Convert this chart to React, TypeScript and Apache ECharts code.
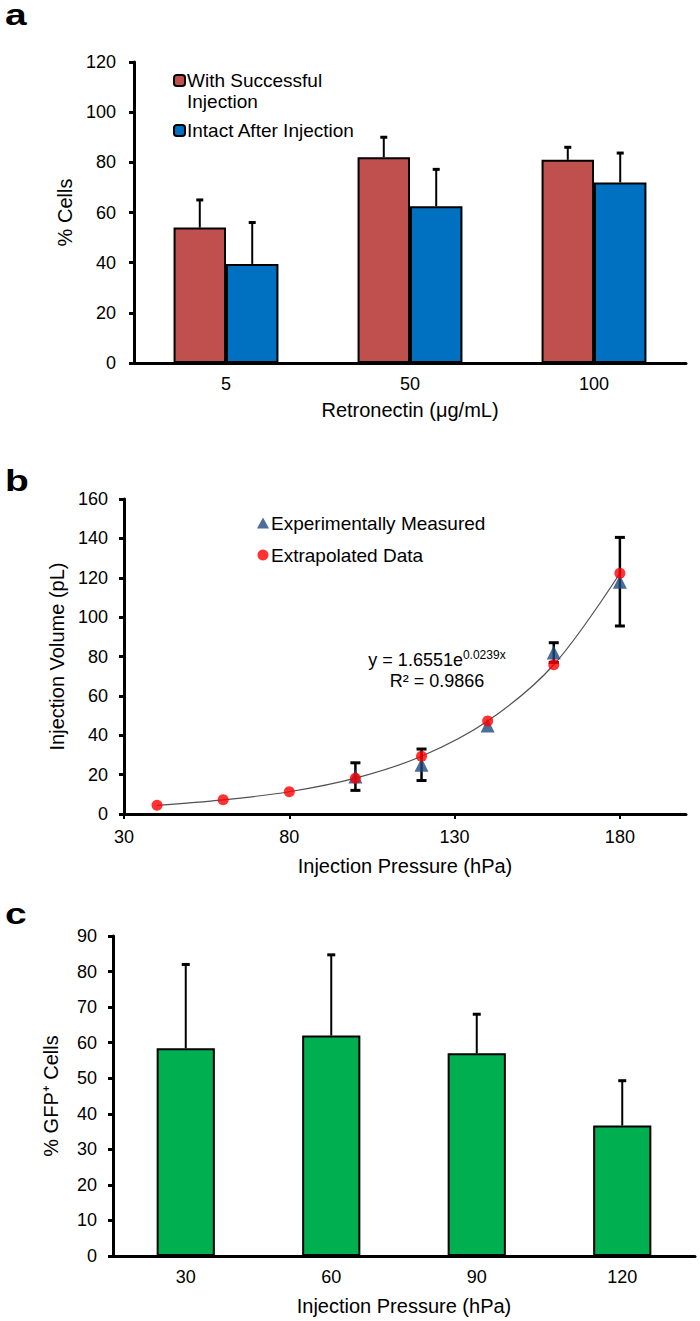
import React, { useEffect, useRef } from "react";
import * as echarts from "echarts";

// ---------- Panel a ----------
const retronectinCats = ["5", "50", "100"];
const successfulInjection = [54, 82, 81];
const successfulErr = [11, 8, 5];
const intactAfter = [39.5, 62.5, 72];
const intactErr = [16.5, 14.7, 11.7];

// ---------- Panel b ----------
const measuredX = [100, 120, 140, 160, 180];
const measuredY = [19, 25, 45, 82, 118];
const measuredErr = [7, 8, 0, 5, 22.5];
const extrapX = [40, 60, 80, 100, 120, 140, 160, 180];
const extrapY = [4.4, 7.2, 11.3, 18.2, 29.3, 47.2, 75.8, 122.3];

// ---------- Panel c ----------
const gfpCats = ["30", "60", "90", "120"];
const gfpVals = [58.4, 62, 57, 36.7];
const gfpErr = [23.6, 22.7, 11, 12.6];

const FONT = "'Liberation Sans', Arial, sans-serif";
const BLACK = "#000";

function catErrRender(offsetFrac: number, cap: number) {
  return (params: any, api: any) => {
    const x = api.value(0);
    const v = api.value(1);
    const e = api.value(2);
    const base = api.coord([x, v]);
    const top = api.coord([x, v + e]);
    const band = api.size([1, 0])[0];
    const cx = base[0] + offsetFrac * band;
    return {
      type: "group",
      children: [
        { type: "line", shape: { x1: cx, y1: base[1], x2: cx, y2: top[1] }, style: { stroke: BLACK, lineWidth: 2 } },
        { type: "line", shape: { x1: cx - cap, y1: top[1], x2: cx + cap, y2: top[1] }, style: { stroke: BLACK, lineWidth: 3 } },
      ],
    };
  };
}

function xyErrRender(params: any, api: any) {
  const x = api.value(0);
  const v = api.value(1);
  const e = api.value(2);
  if (!e) return { type: "group", children: [] };
  const lo = api.coord([x, v - e]);
  const hi = api.coord([x, v + e]);
  const cap = 5;
  return {
    type: "group",
    children: [
      { type: "line", shape: { x1: lo[0], y1: lo[1], x2: hi[0], y2: hi[1] }, style: { stroke: BLACK, lineWidth: 2.5 } },
      { type: "line", shape: { x1: hi[0] - cap, y1: hi[1], x2: hi[0] + cap, y2: hi[1] }, style: { stroke: BLACK, lineWidth: 3 } },
      { type: "line", shape: { x1: lo[0] - cap, y1: lo[1], x2: lo[0] + cap, y2: lo[1] }, style: { stroke: BLACK, lineWidth: 3 } },
    ],
  };
}

const axisLine = { show: true, lineStyle: { color: BLACK, width: 3 } };
const yTick = { show: true, length: 5, lineStyle: { color: BLACK, width: 3 } };
const labelStyle = { color: BLACK, fontSize: 18, fontFamily: FONT, margin: 12 };
const nameStyle = { color: BLACK, fontSize: 20, fontFamily: FONT };
const panelFont = `bold 30px ${FONT}`;

export default function App() {
  const ref = useRef<HTMLDivElement>(null);
  useEffect(() => {
    document.body.style.margin = "0";
    if (!ref.current) return;
    const chart = echarts.init(ref.current, null, { renderer: "svg" });
    const option: any = {
      animation: false,
      backgroundColor: "#fff",
      textStyle: { fontFamily: FONT },
      grid: [
        { left: 134, top: 62, width: 552, height: 301 },
        { left: 124, top: 499, width: 562, height: 315 },
        { left: 113, top: 936, width: 582, height: 320 },
      ],
      xAxis: [
        {
          gridIndex: 0, type: "category", data: retronectinCats,
          axisLine, axisTick: { show: false }, axisLabel: labelStyle,
          name: "Retronectin (μg/mL)", nameLocation: "middle", nameGap: 37, nameTextStyle: nameStyle,
        },
        {
          gridIndex: 1, type: "value", min: 30, max: 200, interval: 50,
          axisLine, axisTick: { show: true, length: 5, lineStyle: { color: BLACK, width: 2 } },
          axisLabel: { ...labelStyle, margin: 14, showMaxLabel: false },
          splitLine: { show: false },
          name: "Injection Pressure (hPa)", nameLocation: "middle", nameGap: 42, nameTextStyle: nameStyle,
        },
        {
          gridIndex: 2, type: "category", data: gfpCats,
          axisLine, axisTick: { show: false }, axisLabel: labelStyle,
          name: "Injection Pressure (hPa)", nameLocation: "middle", nameGap: 40, nameTextStyle: nameStyle,
        },
      ],
      yAxis: [
        {
          gridIndex: 0, type: "value", min: 0, max: 120, interval: 20,
          axisLine, axisTick: yTick, axisLabel: { ...labelStyle, margin: 18 }, splitLine: { show: false },
          name: "% Cells", nameLocation: "middle", nameGap: 54, nameTextStyle: nameStyle,
        },
        {
          gridIndex: 1, type: "value", min: 0, max: 160, interval: 20,
          axisLine, axisTick: yTick, axisLabel: { ...labelStyle, margin: 16 }, splitLine: { show: false },
          name: "Injection Volume (pL)", nameLocation: "middle", nameGap: 51, nameTextStyle: nameStyle,
        },
        {
          gridIndex: 2, type: "value", min: 0, max: 90, interval: 10,
          axisLine, axisTick: yTick, axisLabel: { ...labelStyle, margin: 16 }, splitLine: { show: false },
          name: "% GFP\u207A Cells", nameLocation: "middle", nameGap: 52, nameTextStyle: nameStyle,
        },
      ],
      legend: [
        {
          orient: "vertical", left: 168, top: 44, itemGap: 8, itemWidth: 11, itemHeight: 11,
          data: ["With Successful Injection", "Intact After Injection"],
          formatter: (n: string) => (n === "With Successful Injection" ? "\nWith Successful\nInjection" : n),
          textStyle: { color: BLACK, fontSize: 19, fontFamily: FONT, lineHeight: 21, padding: [0, 0, 0, -3] },
        },
        {
          orient: "vertical", left: 252, top: 507, itemGap: 10, itemWidth: 12, itemHeight: 11,
          data: ["Experimentally Measured", "Extrapolated Data"],
          textStyle: { color: BLACK, fontSize: 19, fontFamily: FONT, lineHeight: 22, padding: [0, 0, 0, -3] },
        },
      ],
      graphic: [
        { type: "text", x: 5, y: 15, scaleX: 1.3, style: { text: "a", font: panelFont, fill: BLACK, verticalAlign: "middle" } },
        { type: "text", x: 5, y: 481, scaleX: 1.3, style: { text: "b", font: panelFont, fill: BLACK, verticalAlign: "middle" } },
        { type: "text", x: 5, y: 914, scaleX: 1.3, style: { text: "c", font: panelFont, fill: BLACK, verticalAlign: "middle" } },
        {
          type: "text", x: 437, y: 670,
          style: {
            text: "{b|y = 1.6551e}{s|0.0239x}\n{b|R² = 0.9866}",
            align: "center", verticalAlign: "middle",
            rich: {
              b: { fontSize: 18, fontFamily: FONT, fill: BLACK, color: BLACK, lineHeight: 21 },
              s: { fontSize: 12, fontFamily: FONT, fill: BLACK, color: BLACK, lineHeight: 21, verticalAlign: "top" },
            },
          },
        },
      ],
      series: [
        // Panel a
        {
          type: "bar", name: "With Successful Injection", xAxisIndex: 0, yAxisIndex: 0,
          data: successfulInjection, barWidth: "28.5%", barGap: "0%",
          itemStyle: { color: "#C0504D", borderColor: BLACK, borderWidth: 2 },
        },
        {
          type: "bar", name: "Intact After Injection", xAxisIndex: 0, yAxisIndex: 0,
          data: intactAfter, barWidth: "28.5%", barGap: "0%",
          itemStyle: { color: "#0070C0", borderColor: BLACK, borderWidth: 2 },
        },
        {
          type: "custom", name: "errA1", xAxisIndex: 0, yAxisIndex: 0, z: 5,
          renderItem: catErrRender(-0.1425, 3.5),
          data: successfulInjection.map((v, i) => [i, v, successfulErr[i]]),
          encode: { x: 0, y: 1 },
        },
        {
          type: "custom", name: "errA2", xAxisIndex: 0, yAxisIndex: 0, z: 5,
          renderItem: catErrRender(0.1425, 3.5),
          data: intactAfter.map((v, i) => [i, v, intactErr[i]]),
          encode: { x: 0, y: 1 },
        },
        // Panel b
        {
          type: "line", name: "Trend", xAxisIndex: 1, yAxisIndex: 1, smooth: 0.35,
          showSymbol: false, symbol: "none",
          lineStyle: { color: "#505050", width: 1.2 },
          data: extrapX.map((x, i) => [x, extrapY[i]]), z: 2,
        },
        {
          type: "custom", name: "errB", xAxisIndex: 1, yAxisIndex: 1, z: 3,
          renderItem: xyErrRender,
          data: measuredX.map((x, i) => [x, measuredY[i], measuredErr[i]]),
          encode: { x: 0, y: 1 },
        },
        {
          type: "scatter", name: "Experimentally Measured", xAxisIndex: 1, yAxisIndex: 1, z: 4,
          symbol: "triangle", symbolSize: 14,
          itemStyle: { color: "#1F497D" },
          data: measuredX.map((x, i) => [x, measuredY[i]]),
        },
        {
          type: "scatter", name: "Extrapolated Data", xAxisIndex: 1, yAxisIndex: 1, z: 5,
          symbol: "circle", symbolSize: 11,
          itemStyle: { color: "#FF0000" },
          data: extrapX.map((x, i) => [x, extrapY[i]]),
        },
        // Panel c
        {
          type: "bar", name: "GFP", xAxisIndex: 2, yAxisIndex: 2,
          data: gfpVals, barWidth: "40%",
          itemStyle: { color: "#00B050", borderColor: BLACK, borderWidth: 2 },
        },
        {
          type: "custom", name: "errC", xAxisIndex: 2, yAxisIndex: 2, z: 5,
          renderItem: catErrRender(0, 4),
          data: gfpVals.map((v, i) => [i, v, gfpErr[i]]),
          encode: { x: 0, y: 1 },
        },
      ],
    };
    chart.setOption(option);
    return () => chart.dispose();
  }, []);
  return <div ref={ref} style={{ width: 700, height: 1321 }} />;
}
